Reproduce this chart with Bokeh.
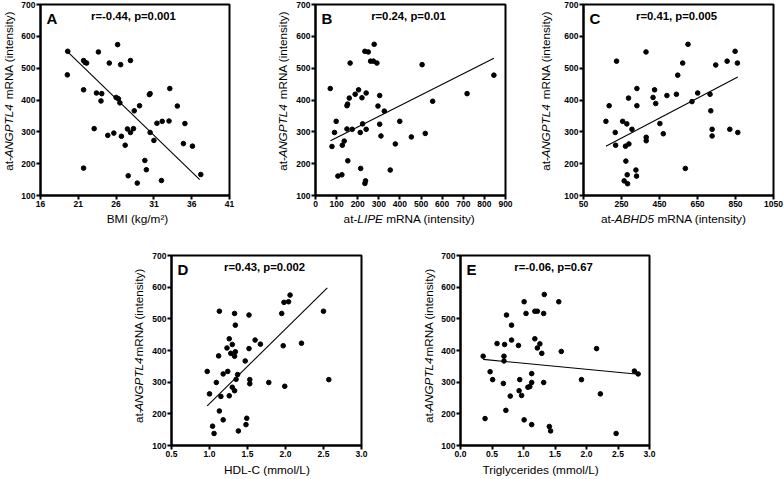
import math
from bokeh.plotting import figure
from bokeh.layouts import column, row
from bokeh.models import Range1d, FixedTicker, Label, PrintfTickFormatter, Spacer
from bokeh.embed import file_html
from bokeh.resources import INLINE

# ---------------- data ----------------
y_ticks = [100, 200, 300, 400, 500, 600, 700]

a_x = [19.6, 19.55, 21.7, 21.9, 22.1, 21.7, 21.7, 23.66, 23.4, 24.1, 24.0, 23.1, 25.1, 24.9,
       25.7, 26.2, 26.6, 26.0, 26.3, 26.5, 26.7, 27.2, 27.9, 27.5, 27.9, 28.3, 28.4, 27.6,
       28.8, 29.1, 29.8, 30.0, 30.4, 30.5, 30.5, 31.0, 31.4, 32.1, 32.0, 33.0, 33.1, 34.1,
       34.9, 35.1, 36.1, 37.2]
a_y = [553, 479, 524, 518, 516, 432, 186, 551, 422, 420, 397, 310, 516, 289,
       296, 574, 511, 408, 404, 391, 286, 258, 524, 309, 298, 310, 366, 162,
       139, 382, 210, 181, 417, 420, 298, 273, 327, 333, 147, 334, 436, 381,
       263, 326, 255, 166]
a_fit_x = [19.6, 37.06]
a_fit_y = [551, 150]
a_xticks = [16, 21, 26, 31, 36, 41]

b_x = [70, 78, 90, 98, 106, 125, 127, 136, 149, 149, 152, 153, 160, 164, 174, 188, 204, 212,
       214, 220, 223, 234, 240, 240, 237, 234, 250, 261, 274, 278, 291, 296, 304, 304, 310,
       326, 354, 378, 399, 454, 505, 520, 555, 718, 845]
b_y = [436, 254, 298, 333, 161, 165, 258, 271, 309, 382, 387, 209, 406, 516, 308, 418, 432, 298,
       185, 407, 325, 553, 422, 308, 146, 138, 551, 522, 522, 575, 516, 381, 414, 324, 287,
       365, 180, 262, 333, 284, 511, 295, 396, 420, 478]
b_fit_x = [71, 845]
b_fit_y = [272, 531]
b_xticks = [0, 100, 200, 300, 400, 500, 600, 700, 800, 900]

c_x = [168, 185, 217, 219, 224, 256, 264, 271, 273, 278, 280, 282, 287, 289, 305, 326, 329, 331,
       331, 379, 380, 380, 416, 424, 430, 452, 470, 489, 539, 546, 572, 586, 600, 621, 651, 716,
       720, 727, 727, 746, 806, 820, 848, 860, 862]
c_y = [333, 382, 298, 258, 522, 333, 146, 255, 208, 325, 165, 137, 406, 262, 308, 180, 161, 436,
       382, 551, 283, 272, 408, 432, 389, 326, 294, 414, 418, 478, 516, 185, 575, 395, 422, 418,
       366, 308, 287, 510, 522, 308, 553, 516, 298]
c_fit_x = [168, 862]
c_fit_y = [255, 472]
c_xticks = [50, 250, 450, 650, 850, 1050]

d_x = [0.97, 1.00, 1.04, 1.06, 1.09, 1.12, 1.13, 1.13, 1.15, 1.18, 1.18, 1.23, 1.24, 1.26, 1.26,
       1.28, 1.30, 1.30, 1.33, 1.33, 1.33, 1.34, 1.34, 1.35, 1.37, 1.38, 1.47, 1.48, 1.49, 1.52,
       1.52, 1.53, 1.53, 1.60, 1.67, 1.78, 1.95, 1.97, 1.98, 1.99, 2.04, 2.06, 2.21, 2.50, 2.57]
d_y = [334, 263, 161, 138, 299, 383, 524, 209, 255, 326, 181, 408, 334, 437, 257,
       391, 419, 284, 382, 517, 273, 396, 480, 309, 324, 146, 367, 166, 186, 512,
       406, 308, 295, 433, 420, 299, 517, 415, 552, 287, 554, 575, 423, 524, 308]
d_fit_x = [0.97, 2.55]
d_fit_y = [225, 598]
d_xticks = [0.5, 1.0, 1.5, 2.0, 2.5, 3.0]

e_x = [0.36, 0.39, 0.47, 0.51, 0.58, 0.68, 0.69, 0.69, 0.70, 0.72, 0.73, 0.79, 0.81, 0.81, 0.92,
       0.93, 0.94, 0.97, 1.01, 1.01, 1.04, 1.07, 1.10, 1.13, 1.13, 1.13, 1.18, 1.18, 1.22, 1.22,
       1.26, 1.29, 1.32, 1.32, 1.33, 1.41, 1.43, 1.56, 1.60, 1.92, 2.16, 2.22, 2.47, 2.76, 2.82]
e_y = [382, 185, 333, 308, 422, 296, 382, 367, 419, 211, 512, 256, 480, 433, 416,
       273, 308, 258, 554, 181, 517, 284, 286, 299, 327, 166, 437, 524, 524, 408,
       421, 391, 517, 299, 577, 160, 146, 554, 397, 308, 406, 263, 138, 335, 326]
e_fit_x = [0.36, 2.82]
e_fit_y = [372, 325]
e_xticks = [0.0, 0.5, 1.0, 1.5, 2.0, 2.5, 3.0]

letters = ["A", "B", "C", "D", "E"]
stats = ["r=-0.44, p=0.001", "r=0.24, p=0.01", "r=0.41, p=0.005", "r=0.43, p=0.002", "r=-0.06, p=0.67"]
y_title = [("at-", "normal"), ("ANGPTL4", "italic"), (" mRNA (intensity)", "normal")]
x_titles = [
    [("BMI (kg/m\u00b2)", "normal")],
    [("at-", "normal"), ("LIPE", "italic"), (" mRNA (intensity)", "normal")],
    [("at-", "normal"), ("ABHD5", "italic"), (" mRNA (intensity)", "normal")],
    [("HDL-C (mmol/L)", "normal")],
    [("Triglycerides (mmol/L)", "normal")],
]

# ---------------- styling helpers ----------------
FONT = "Liberation Sans"
XF = 11.8
YF = 11.7
V_SCALE = 1.06    # rotated text renders a little wider than the nominal metrics
ITALIC_GAP = 4.5  # extra room after a rotated italic run
BASE_FIX = 5.0    # renderer draws "alphabetic" text a few px below the anchor
# Arial advance widths (per 1000 em) used to lay out mixed-style titles
AW = {' ': 278, '(': 333, ')': 333, '-': 333, '/': 278, '4': 556, '5': 556, '\u00b2': 333,
      'A': 667, 'B': 667, 'C': 722, 'D': 722, 'E': 667, 'G': 778, 'H': 722, 'I': 278,
      'L': 556, 'M': 833, 'N': 722, 'P': 667, 'R': 722, 'T': 611,
      'a': 556, 'c': 500, 'd': 556, 'e': 556, 'g': 556, 'i': 222, 'k': 500, 'l': 222,
      'm': 833, 'n': 556, 'o': 556, 'r': 333, 's': 500, 't': 278, 'y': 500}


def tw(s, size, scale=1.0):
    return sum(AW.get(c, 556) for c in s) / 1000.0 * size * scale


def text_fig(w, h):
    f = figure(width=w, height=h, x_range=Range1d(0, w), y_range=Range1d(0, h),
               output_backend="svg", toolbar_location=None, min_border=0,
               x_axis_location=None, y_axis_location=None)
    f.outline_line_color = None
    f.grid.visible = False
    f.background_fill_color = "white"
    f.border_fill_color = "white"
    return f


def place_parts(fig, parts, size, start, fixed, vertical, scale=1.0, extra=0.0):
    pos = start
    for t, s in parts:
        lead = len(t) - len(t.lstrip())
        pos += tw(t[:lead], size, scale)
        body = t.lstrip()
        if vertical:
            fig.add_layout(Label(x=fixed, y=pos, text=body, angle=math.pi / 2,
                                 text_font=FONT, text_font_style=s, text_font_size=f"{size}px",
                                 text_align="left", text_baseline="alphabetic", text_color="black"))
        else:
            fig.add_layout(Label(x=pos, y=fixed, text=body,
                                 text_font=FONT, text_font_style=s, text_font_size=f"{size}px",
                                 text_align="left", text_baseline="alphabetic", text_color="black"))
        pos += tw(body, size, scale)
        if s == "italic":
            pos += extra


def panel(k, x, y, fx, fy, xr, xticks, xfmt, RW, YW, BL, BR, BT, HM, XH, YB, dx, XB):
    W = RW - YW
    fw = W - BL - BR
    fh = HM - BT - 16
    p = figure(width=W, height=HM, x_range=Range1d(*xr), y_range=Range1d(100, 700),
               output_backend="svg", toolbar_location=None,
               min_border_left=BL, min_border_right=BR, min_border_top=BT, min_border_bottom=16)
    p.outline_line_color = "black"
    p.outline_line_width = 2
    p.outline_line_alpha = 1
    p.xgrid.visible = False
    p.ygrid.visible = False
    p.background_fill_color = "white"
    p.border_fill_color = "white"
    for ax in (p.xaxis[0], p.yaxis[0]):
        ax.axis_line_color = "black"
        ax.axis_line_width = 2
        ax.major_tick_line_color = "black"
        ax.major_tick_line_width = 2
        ax.major_tick_in = 0
        ax.major_tick_out = 4
        ax.minor_tick_line_color = None
        ax.major_label_text_font = FONT
        ax.major_label_text_font_style = "bold"
        ax.major_label_text_font_size = "8.5px"
        ax.major_label_text_color = "black"
        ax.major_label_standoff = 1
    p.xaxis[0].ticker = FixedTicker(ticks=xticks, minor_ticks=[])
    p.xaxis[0].formatter = PrintfTickFormatter(format=xfmt)
    p.yaxis[0].ticker = FixedTicker(ticks=y_ticks, minor_ticks=[])

    p.line(fx, fy, line_color="black", line_width=1.1)
    p.scatter(x, y, size=4.6, marker="circle", fill_color="black", line_color="black")

    lab = Label(x=6, y=fh - 14, x_units="screen", y_units="screen", text=letters[k],
                text_font=FONT, text_font_style="bold", text_font_size="15px",
                text_align="left", text_baseline="alphabetic", text_color="black")
    st = Label(x=fw / 2 - 2, y=fh - 11, x_units="screen", y_units="screen", text=stats[k],
               text_font=FONT, text_font_style="bold", text_font_size="11.3px",
               text_align="center", text_baseline="alphabetic", text_color="black")
    p.add_layout(lab)
    p.add_layout(st)

    # y title figure (left strip), rotated mixed-style text
    yf = text_fig(YW, HM)
    total = sum(tw(t, YF, V_SCALE) for t, _ in y_title) + ITALIC_GAP
    centre = 16 + fh / 2 + 2.2
    place_parts(yf, y_title, YF, centre - total / 2, YB - BASE_FIX, True, V_SCALE, ITALIC_GAP)

    # x title figure (bottom strip)
    xf = text_fig(RW, XH)
    parts = x_titles[k]
    total = sum(tw(t, XF) for t, _ in parts)
    place_parts(xf, parts, XF, YW + BL + fw / 2 + dx - total / 2, XB + BASE_FIX, False)

    return column(row(yf, p), xf)


pa = panel(0, a_x, a_y, a_fit_x, a_fit_y, (16, 41), a_xticks, "%d", 262, 18, 21, 33, 4, 211, 24, 13.3, 3, 11.5)
pb = panel(1, b_x, b_y, b_fit_x, b_fit_y, (0, 900), b_xticks, "%d", 268, 28, 25, 25, 4, 211, 24, 24.7, -1, 11.5)
pc = panel(2, c_x, c_y, c_fit_x, c_fit_y, (50, 1050), c_xticks, "%d", 254, 24, 29, 11, 4, 211, 24, 20, -4.7, 11.5)
pd = panel(3, d_x, d_y, d_fit_x, d_fit_y, (0.5, 3.0), d_xticks, "%.1f", 270, 18, 23, 39, 20, 226, 18, 13.3, 0.4, 4.7)
pe = panel(4, e_x, e_y, e_fit_x, e_fit_y, (0.0, 3.0), e_xticks, "%.1f", 300, 38, 21, 51, 20, 226, 18, 33.3, -13.7, 4.7)

layout = column(row(pa, pb, pc), row(Spacer(width=130, height=244), pd, pe))

open("out.html", "w").write(file_html(layout, INLINE))
